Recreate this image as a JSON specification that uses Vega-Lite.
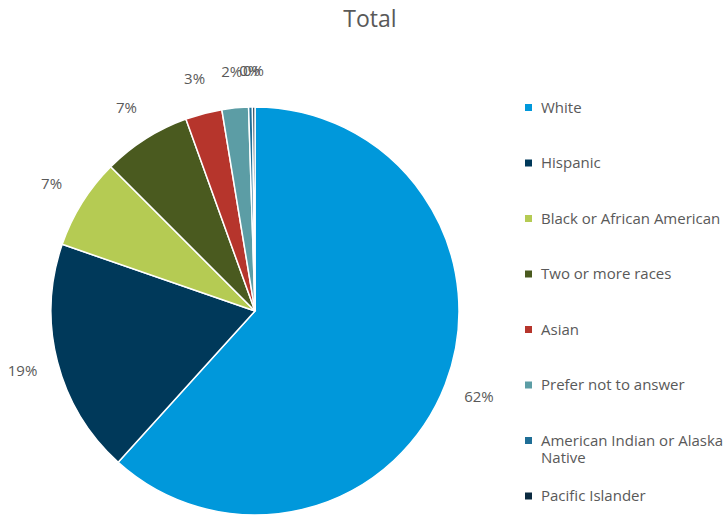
{
  "$schema": "https://vega.github.io/schema/vega-lite/v6.json",
  "width": 408,
  "height": 408,
  "autosize": {"type": "none"},
  "padding": {"left": 51, "top": 107, "right": 269, "bottom": 1},
  "background": "white",
  "config": {"view": {"stroke": null}, "font": "Open Sans"},
  "title": {
    "text": "Total",
    "font": "Open Sans",
    "fontSize": 23,
    "fontWeight": "normal",
    "color": "#595959",
    "anchor": "middle",
    "frame": "group",
    "offset": 0,
    "baseline": "alphabetic",
    "dx": 115,
    "dy": -14
  },
  "data": {
    "values": [
      {"group": "White", "share": 0.617, "rank": 1},
      {"group": "Hispanic", "share": 0.186, "rank": 2},
      {"group": "Black or African American", "share": 0.072, "rank": 3},
      {"group": "Two or more races", "share": 0.070, "rank": 4},
      {"group": "Asian", "share": 0.029, "rank": 5},
      {"group": "Prefer not to answer", "share": 0.021, "rank": 6},
      {"group": "American Indian or Alaska Native", "share": 0.003, "rank": 7},
      {"group": "Pacific Islander", "share": 0.002, "rank": 8}
    ]
  },
  "encoding": {
    "theta": {"field": "share", "type": "quantitative", "stack": true},
    "order": {"field": "rank", "type": "quantitative"}
  },
  "layer": [
    {
      "mark": {"type": "arc", "outerRadius": 204, "stroke": "white", "strokeWidth": 1.5},
      "encoding": {
        "color": {
          "field": "group",
          "type": "nominal",
          "sort": ["White", "Hispanic", "Black or African American", "Two or more races", "Asian", "Prefer not to answer", "American Indian or Alaska Native", "Pacific Islander"],
          "scale": {
            "domain": ["White", "Hispanic", "Black or African American", "Two or more races", "Asian", "Prefer not to answer", "American Indian or Alaska Native", "Pacific Islander"],
            "range": ["#0098DB", "#00395A", "#B5CB53", "#4A5A1F", "#B6352C", "#5C9DA5", "#1F6E96", "#0B2A40"]
          },
          "legend": {
            "orient": "none",
            "legendX": 470,
            "legendY": -7,
            "title": null,
            "padding": 0,
            "columns": 1,
            "gridAlign": "all",
            "rowPadding": 22.5,
            "symbolType": "square",
            "symbolSize": 49,
            "symbolStrokeWidth": 0,
            "labelFont": "Open Sans",
            "labelFontSize": 15,
            "labelColor": "#595959",
            "labelOffset": 5,
            "labelLimit": 400,
            "labelExpr": "datum.label == 'American Indian or Alaska Native' ? ['American Indian or Alaska', 'Native'] : datum.label"
          }
        }
      }
    },
    {
      "mark": {"type": "text", "radius": 240, "font": "Open Sans", "fontSize": 15, "color": "#595959"},
      "encoding": {
        "text": {"field": "share", "type": "quantitative", "format": ".0%"}
      }
    }
  ]
}
